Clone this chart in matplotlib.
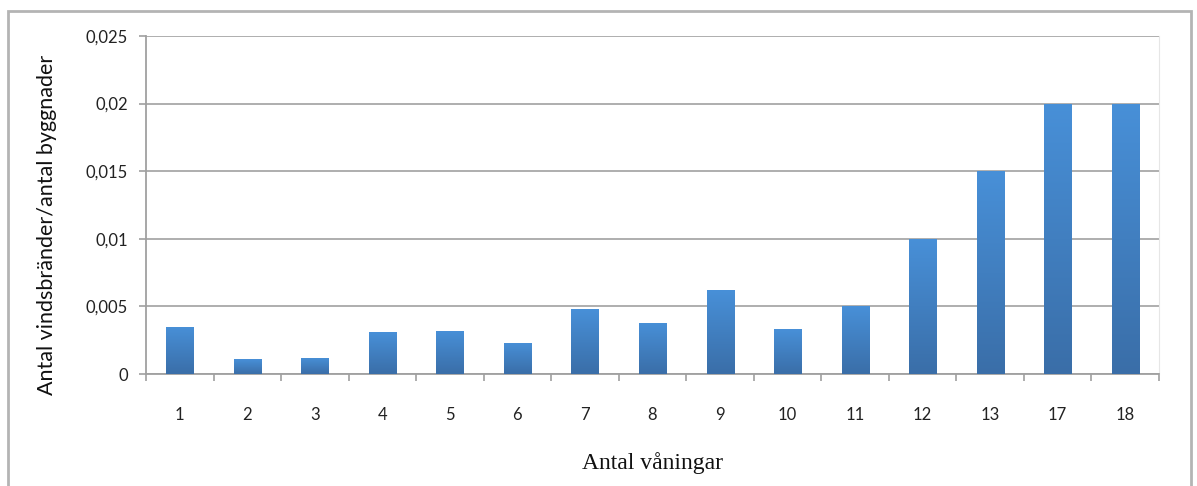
import numpy as np
import matplotlib.pyplot as plt
from matplotlib.patches import Rectangle
from matplotlib.colors import LinearSegmentedColormap

# data
floors = ["1", "2", "3", "4", "5", "6", "7", "8", "9", "10", "11", "12", "13", "17", "18"]
ratio = [0.0035, 0.0011, 0.0012, 0.0031, 0.0032, 0.0023, 0.0048, 0.0038,
         0.0062, 0.0033, 0.0050, 0.0100, 0.0150, 0.0200, 0.0200]
yticks = [0, 0.005, 0.01, 0.015, 0.02, 0.025]
ytick_labels = ["0", "0,005", "0,01", "0,015", "0,02", "0,025"]

W, H = 1197, 486
fig = plt.figure(figsize=(W / 100, H / 100), dpi=100)
ax = fig.add_axes([146 / W, 1 - 374 / H, (1159 - 146) / W, (374 - 36) / H])

# outer frame like the spreadsheet chart border
fig.patches.append(Rectangle((8 / W, -0.05), (1191 - 8) / W, 1.05 - 11 / H,
                             transform=fig.transFigure, fill=False,
                             edgecolor="#b4b4b4", linewidth=2))

x = np.arange(1, len(floors) + 1)
bars = ax.bar(x, ratio, width=0.4, color="none", edgecolor="none", zorder=3)

grad = LinearSegmentedColormap.from_list("bar", ["#3a6ea8", "#4890d8"])
g = np.linspace(0, 1, 256).reshape(-1, 1)
for b in bars:
    x0, y0 = b.get_x(), b.get_y()
    im = ax.imshow(g, cmap=grad, origin="lower", aspect="auto", zorder=3,
                   extent=[x0, x0 + b.get_width(), y0, y0 + b.get_height()])
    im.set_clip_path(b)

ax.set_xlim(0.5, len(floors) + 0.5)
ax.set_ylim(0, 0.025)

ax.set_yticks(yticks)
ax.set_yticklabels(ytick_labels)
ax.yaxis.grid(True, color="#a8a8a8", linewidth=1.3, zorder=0)
ax.set_axisbelow(True)

ax.set_xticks(x)
ax.set_xticklabels(floors)
ax.set_xticks(np.arange(0.5, len(floors) + 1, 1), minor=True)
ax.tick_params(axis="x", which="major", length=0, pad=24)
ax.tick_params(axis="x", which="minor", length=5, width=1.2, color="#a0a0a0")
ax.tick_params(axis="y", length=5, width=1.2, color="#a0a0a0", pad=8)
for lab in ax.get_xticklabels() + ax.get_yticklabels():
    lab.set_fontfamily("Lato")
    lab.set_fontsize(12)
    lab.set_color("#222222")

for s in ["left", "bottom"]:
    ax.spines[s].set_color("#a0a0a0")
    ax.spines[s].set_linewidth(1.3)
ax.spines["right"].set_color("#e6e6e6")
ax.spines["top"].set_visible(False)

fig.text(652 / W, 1 - 463 / H, "Antal våningar", ha="center", va="center",
         fontfamily="Liberation Serif", fontsize=17, color="#111111")
fig.text(47 / W, 1 - 225 / H, "Antal vindsbränder/antal byggnader", rotation=90,
         ha="center", va="center", fontfamily="Lato", fontsize=15.5, color="#111111")

fig.savefig("out.png", dpi=100)
